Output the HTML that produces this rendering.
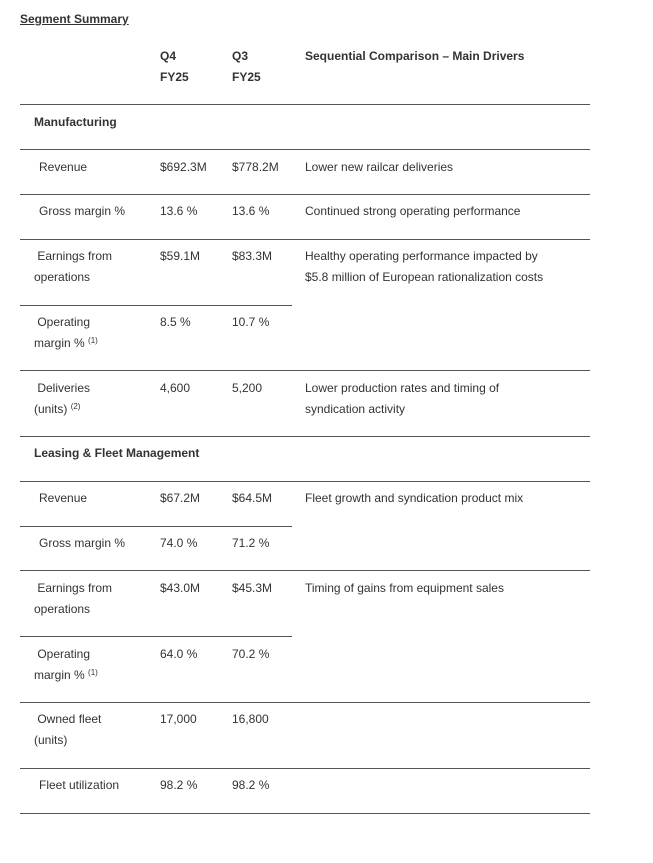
<!DOCTYPE html>
<html><head><style>
body{margin:0;width:653px;height:863px;background:#fff;position:relative;font-family:"Liberation Sans",sans-serif;color:#333;font-size:12px;}
.t{position:absolute;line-height:21px;white-space:nowrap;}
.b{font-weight:bold;}
.l{position:absolute;left:20px;height:1px;background:#555;}
sup{font-size:8px;vertical-align:4px;line-height:0;}
</style></head><body>
<div class="t b" style="left:20px;top:9px;text-decoration:underline;">Segment Summary</div>
<div class="t b" style="left:160px;top:46px">Q4<br>FY25</div>
<div class="t b" style="left:232px;top:46px">Q3<br>FY25</div>
<div class="t b" style="left:305px;top:46px">Sequential Comparison – Main Drivers</div>

<div class="l" style="top:104px;width:570px"></div>
<div class="t b" style="left:34px;top:112px">Manufacturing</div>
<div class="l" style="top:149px;width:570px"></div>
<div class="t" style="left:39px;top:157px">Revenue</div><div class="t" style="left:160px;top:157px">$692.3M</div><div class="t" style="left:232px;top:157px">$778.2M</div><div class="t" style="left:305px;top:157px">Lower new railcar deliveries</div>
<div class="l" style="top:194px;width:570px"></div>
<div class="t" style="left:39px;top:201px">Gross margin %</div><div class="t" style="left:160px;top:201px">13.6 %</div><div class="t" style="left:232px;top:201px">13.6 %</div><div class="t" style="left:305px;top:201px">Continued strong operating performance</div>
<div class="l" style="top:239px;width:570px"></div>
<div class="t" style="left:34px;top:246px">&nbsp;Earnings from<br>operations</div><div class="t" style="left:160px;top:246px">$59.1M</div><div class="t" style="left:232px;top:246px">$83.3M</div><div class="t" style="left:305px;top:246px">Healthy operating performance impacted by<br>$5.8 million of European rationalization costs</div>
<div class="l" style="top:305px;width:272px"></div>
<div class="t" style="left:34px;top:312px">&nbsp;Operating<br>margin % <sup>(1)</sup></div><div class="t" style="left:160px;top:312px">8.5 %</div><div class="t" style="left:232px;top:312px">10.7 %</div>
<div class="l" style="top:370px;width:570px"></div>
<div class="t" style="left:34px;top:378px">&nbsp;Deliveries<br>(units) <sup>(2)</sup></div><div class="t" style="left:160px;top:378px">4,600</div><div class="t" style="left:232px;top:378px">5,200</div><div class="t" style="left:305px;top:378px">Lower production rates and timing of<br>syndication activity</div>
<div class="l" style="top:436px;width:570px"></div>
<div class="t b" style="left:34px;top:443px">Leasing &amp; Fleet Management</div>
<div class="l" style="top:481px;width:570px"></div>
<div class="t" style="left:39px;top:488px">Revenue</div><div class="t" style="left:160px;top:488px">$67.2M</div><div class="t" style="left:232px;top:488px">$64.5M</div><div class="t" style="left:305px;top:488px">Fleet growth and syndication product mix</div>
<div class="l" style="top:526px;width:272px"></div>
<div class="t" style="left:39px;top:533px">Gross margin %</div><div class="t" style="left:160px;top:533px">74.0 %</div><div class="t" style="left:232px;top:533px">71.2 %</div>
<div class="l" style="top:570px;width:570px"></div>
<div class="t" style="left:34px;top:578px">&nbsp;Earnings from<br>operations</div><div class="t" style="left:160px;top:578px">$43.0M</div><div class="t" style="left:232px;top:578px">$45.3M</div><div class="t" style="left:305px;top:578px">Timing of gains from equipment sales</div>
<div class="l" style="top:636px;width:272px"></div>
<div class="t" style="left:34px;top:644px">&nbsp;Operating<br>margin % <sup>(1)</sup></div><div class="t" style="left:160px;top:644px">64.0 %</div><div class="t" style="left:232px;top:644px">70.2 %</div>
<div class="l" style="top:702px;width:570px"></div>
<div class="t" style="left:34px;top:709px">&nbsp;Owned fleet<br>(units)</div><div class="t" style="left:160px;top:709px">17,000</div><div class="t" style="left:232px;top:709px">16,800</div>
<div class="l" style="top:768px;width:570px"></div>
<div class="t" style="left:39px;top:775px">Fleet utilization</div><div class="t" style="left:160px;top:775px">98.2 %</div><div class="t" style="left:232px;top:775px">98.2 %</div>
<div class="l" style="top:813px;width:570px"></div>
</body></html>
